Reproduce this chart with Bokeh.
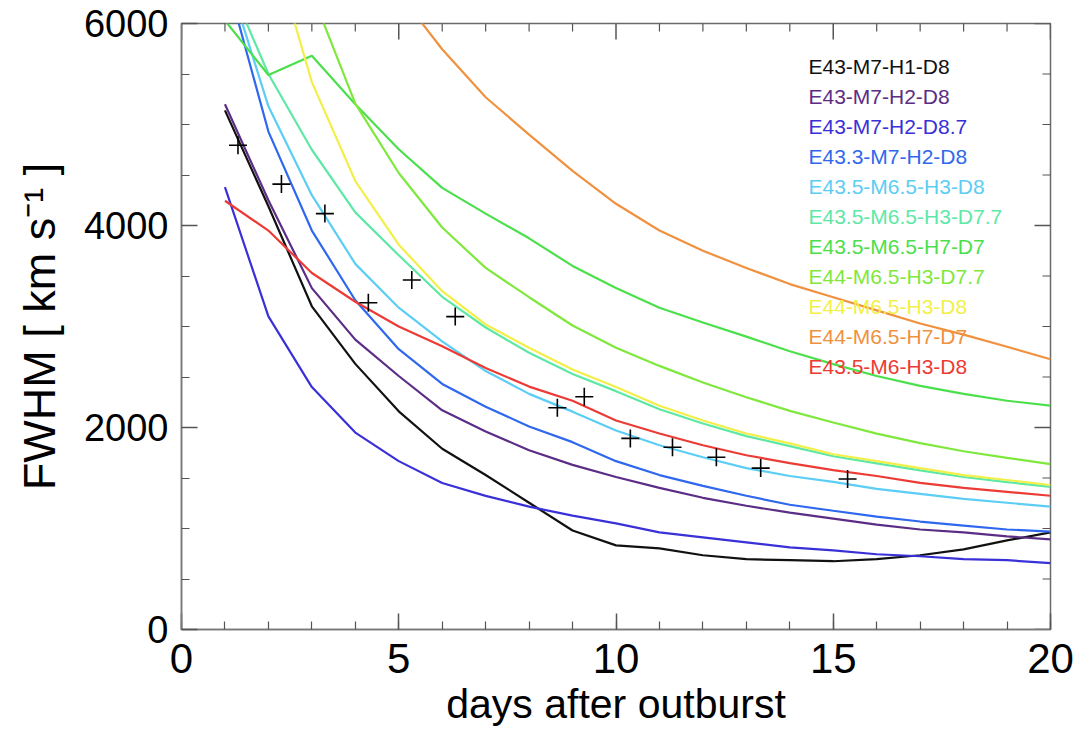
import math
from bokeh.plotting import figure
from bokeh.models import FixedTicker, Range1d
from bokeh.core.properties import value
from bokeh.embed import file_html
from bokeh.resources import INLINE

# ---------------- data ----------------
days = list(range(1, 21))

model_names = [
    "E43-M7-H1-D8",
    "E43-M7-H2-D8",
    "E43-M7-H2-D8.7",
    "E43.3-M7-H2-D8",
    "E43.5-M6.5-H3-D8",
    "E43.5-M6.5-H3-D7.7",
    "E43.5-M6.5-H7-D7",
    "E44-M6.5-H3-D7.7",
    "E44-M6.5-H3-D8",
    "E44-M6.5-H7-D7",
    "E43.5-M6-H3-D8",
]
model_colors = [
    "#111111", "#5b2d86", "#3a30d8", "#2f68ee", "#5ccdf4", "#5ee8a6",
    "#4be04b", "#7fe83c", "#f2ef48", "#f0913f", "#ec3b35",
]

fwhm_E43_M7_H1_D8 = [5140, 4190, 3200, 2630, 2160, 1790, 1530, 1255, 980, 833,
                     804, 735, 696, 686, 676, 696, 735, 794, 882, 961]
fwhm_E43_M7_H2_D8 = [5200, 4250, 3380, 2870, 2510, 2170, 1960, 1775, 1630, 1510,
                     1402, 1304, 1225, 1157, 1098, 1039, 990, 961, 922, 892]
fwhm_E43_M7_H2_D87 = [4380, 3100, 2400, 1950, 1667, 1451, 1323, 1216, 1127, 1050,
                      961, 912, 863, 814, 784, 745, 725, 696, 686, 657]
fwhm_E433_M7_H2_D8 = [6500, 4930, 3950, 3260, 2775, 2431, 2206, 2010, 1855, 1667,
                      1529, 1422, 1324, 1235, 1176, 1118, 1069, 1029, 990, 970]
fwhm_E435_M65_H3_D8 = [6550, 5180, 4300, 3620, 3186, 2853, 2559, 2333, 2157, 1970,
                       1824, 1706, 1598, 1520, 1461, 1392, 1343, 1294, 1255, 1216]
fwhm_E435_M65_H3_D77 = [6500, 5500, 4750, 4130, 3706, 3294, 2990, 2740, 2530, 2360,
                        2180, 2040, 1915, 1815, 1715, 1645, 1575, 1510, 1460, 1412]
fwhm_E435_M65_H7_D7 = [6030, 5490, 5680, 5200, 4755, 4373, 4118, 3873, 3600, 3382,
                       3186, 3040, 2900, 2755, 2627, 2510, 2412, 2333, 2265, 2216]
fwhm_E44_M65_H3_D77 = [11000, 8200, 6300, 5206, 4520, 3980, 3580, 3290, 3010, 2790,
                       2610, 2445, 2300, 2165, 2050, 1940, 1845, 1765, 1700, 1637]
fwhm_E44_M65_H3_D8 = [9000, 6900, 5420, 4440, 3810, 3350, 3020, 2790, 2575, 2402,
                      2216, 2069, 1941, 1843, 1735, 1667, 1598, 1529, 1480, 1431]
fwhm_E44_M65_H7_D7 = [13000, 10500, 8600, 7200, 6300, 5745, 5270, 4900, 4540, 4215,
                      3950, 3750, 3580, 3420, 3290, 3160, 3030, 2920, 2800, 2676]
fwhm_E435_M6_H3_D8 = [4245, 3950, 3530, 3245, 3000, 2804, 2590, 2405, 2265, 2069,
                      1941, 1824, 1725, 1647, 1578, 1520, 1451, 1402, 1363, 1324]

obs_days = [1.3, 2.3, 3.3, 4.3, 5.3, 6.3, 8.65, 9.27, 10.33, 11.3, 12.31, 13.33, 15.33]
obs_fwhm = [4795, 4410, 4118, 3235, 3461, 3098, 2196, 2304, 1892, 1804, 1706, 1598, 1490]

x_ticks = [0, 5, 10, 15, 20]
x_minor = list(range(0, 21))
y_ticks = [0, 2000, 4000, 6000]
y_minor = list(range(0, 6001, 500))

model_series = [
    fwhm_E43_M7_H1_D8, fwhm_E43_M7_H2_D8, fwhm_E43_M7_H2_D87, fwhm_E433_M7_H2_D8,
    fwhm_E435_M65_H3_D8, fwhm_E435_M65_H3_D77, fwhm_E435_M65_H7_D7,
    fwhm_E44_M65_H3_D77, fwhm_E44_M65_H3_D8, fwhm_E44_M65_H7_D7, fwhm_E435_M6_H3_D8,
]

FONT = "Liberation Sans"
X_MIN, X_MAX, Y_MIN, Y_MAX = 0, 20, 0, 6000

# ---------------- figure ----------------
p = figure(width=1078, height=733, x_range=Range1d(X_MIN, X_MAX),
           y_range=Range1d(Y_MIN, Y_MAX),
           output_backend="svg", toolbar_location=None,
           min_border_left=181, min_border_right=28, min_border_top=23,
           min_border_bottom=104)
p.grid.visible = False
p.background_fill_color = "white"
p.border_fill_color = "white"
p.outline_line_color = "#6a6a6a"
p.outline_line_width = 1.5

AX_COL = "#7a7a7a"
TICK_COL = "#555555"


def style_axis(ax, ticks, minor):
    ax.ticker = FixedTicker(ticks=ticks, minor_ticks=minor)
    ax.major_tick_in = 16
    ax.major_tick_out = 0
    ax.minor_tick_in = 8
    ax.minor_tick_out = 0
    ax.axis_line_color = AX_COL
    ax.axis_line_width = 1.5
    ax.major_tick_line_color = TICK_COL
    ax.major_tick_line_width = 1.5
    ax.minor_tick_line_color = TICK_COL
    ax.minor_tick_line_width = 1.2


xa = p.xaxis[0]
style_axis(xa, x_ticks, x_minor)
xa.axis_label = "days after outburst"
xa.axis_label_text_font = FONT
xa.axis_label_text_font_size = "41px"
xa.axis_label_text_font_style = "normal"
xa.axis_label_text_color = "black"
xa.axis_label_standoff = 5
xa.major_label_text_font = FONT
xa.major_label_text_font_size = "42px"
xa.major_label_text_color = "black"
xa.major_label_standoff = 14

ya = p.yaxis[0]
style_axis(ya, y_ticks, y_minor)
ya.axis_label = "FWHM [ km s\u207b\u00b9 ]"
ya.axis_label_text_font = FONT
ya.axis_label_text_font_size = "45px"
ya.axis_label_text_font_style = "normal"
ya.axis_label_text_color = "black"
ya.axis_label_standoff = 16
ya.major_label_text_font = FONT
ya.major_label_text_font_size = "38px"
ya.major_label_text_color = "black"
ya.major_label_standoff = 13

# ---- inward ticks on the top and right frame edges (half of each dash is clipped) ----
x_minor_only = [v for v in x_minor if v not in x_ticks]
y_minor_only = [v for v in y_minor if v not in y_ticks]
p.scatter(x_ticks, [Y_MAX] * len(x_ticks), marker="dash", angle=math.pi / 2,
          size=32, line_color=TICK_COL, line_width=1.5)
p.scatter(x_minor_only, [Y_MAX] * len(x_minor_only), marker="dash",
          angle=math.pi / 2, size=16, line_color=TICK_COL, line_width=1.2)
p.scatter([X_MAX] * len(y_ticks), y_ticks, marker="dash", size=32,
          line_color=TICK_COL, line_width=1.5)
p.scatter([X_MAX] * len(y_minor_only), y_minor_only, marker="dash", size=16,
          line_color=TICK_COL, line_width=1.2)

# ---------------- model curves ----------------
for vals, col in zip(model_series, model_colors):
    p.line(days, vals, line_color=col, line_width=2.2)

# ---------------- observations ----------------
p.scatter(obs_days, obs_fwhm, marker="cross", size=18, line_color="black",
          line_width=1.6)

# ---------------- legend (coloured names) ----------------
leg_x = [14.43] * len(model_names)
leg_y = [5570 - 297 * i for i in range(len(model_names))]
p.text(x=leg_x, y=leg_y, text=model_names, text_color=model_colors,
       text_font=value(FONT), text_font_size="21px", text_baseline="middle",
       text_align="left")

open("out.html", "w").write(file_html(p, INLINE))
